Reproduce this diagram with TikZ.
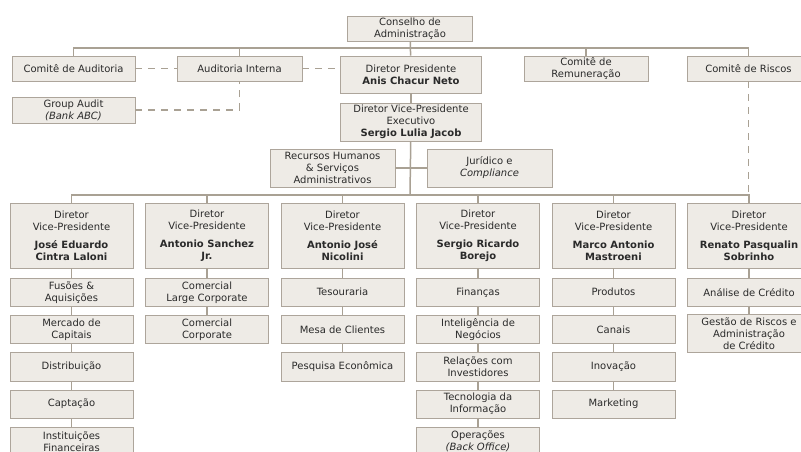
\documentclass[tikz,border=0pt]{standalone}
\usepackage{fontspec}
\setmainfont{DejaVu Sans}
\usetikzlibrary{positioning}

\definecolor{boxfill}{HTML}{EEEBE6}
\definecolor{boxline}{HTML}{ADA59B}
\definecolor{linkline}{HTML}{A9A194}
\definecolor{txt}{HTML}{2A2A2A}

\tikzset{
  unit/.style={draw=boxline, fill=boxfill, text=txt, line width=0.8pt, align=center,
    inner sep=1pt, font=\fontsize{10}{12}\selectfont, minimum width=123pt, minimum height=25pt},
  vp/.style={unit, minimum height=65pt},
  dept/.style={unit, minimum height=28.5pt},
  link/.style={draw=linkline, line width=1.5pt},
  dashlink/.style={link, dash pattern=on 7pt off 6pt},
}

\begin{document}
\begin{tikzpicture}[x=1pt,y=-1pt]
        % page frame
        \fill[white] (0,0) rectangle (801,452);
        \useasboundingbox (0,0) rectangle (801,452);
        \clip (0,0) rectangle (801,452);

        % board and committees
        \node[unit, minimum width=125pt] (cons) at (410,28.5) {Conselho de\\Administração};
        \node[unit] (comaud) at (73.5,68.5) {Comitê de Auditoria};
        \node[unit, minimum width=125pt] (audint) at (239.5,68.5) {Auditoria Interna};
        \node[unit, minimum width=141pt, minimum height=37pt] (pres) at (411,74.5) {Diretor Presidente\\\textbf{Anis Chacur Neto}};
        \node[unit, minimum width=124pt] (comrem) at (586,68.5) {Comitê de\\Remuneração};
        \node[unit] (comrisk) at (748.5,68.5) {Comitê de Riscos};
        \node[unit, minimum height=26pt] (ga) at (73.5,110) {Group Audit\\\textit{(Bank ABC)}};
        \node[unit, minimum width=141pt, minimum height=38pt] (vpexec) at (411,122) {Diretor Vice-Presidente\\Executivo\\\textbf{Sergio Lulia Jacob}};
        \node[unit, minimum width=125pt, minimum height=38pt] (rh) at (332.5,168) {Recursos Humanos\\\& Serviços\\Administrativos};
        \node[unit, minimum width=125pt, minimum height=38pt] (jur) at (489.5,168) {Jurídico e\\\textit{Compliance}};

        \coordinate (top) at (410,48);
        \coordinate (spine) at (410,195);

        % vice-presidents
        \node[vp] (v1) at (71.5,235.5) {Diretor\\Vice-Presidente\\[6pt]\textbf{José Eduardo}\\\textbf{Cintra Laloni}};
        \node[vp] (v2) at (207,235.5) {Diretor\\Vice-Presidente\\[6pt]\textbf{Antonio Sanchez}\\\textbf{Jr.}};
        \node[vp] (v3) at (342.5,235.5) {Diretor\\Vice-Presidente\\[6pt]\textbf{Antonio José}\\\textbf{Nicolini}};
        \node[vp] (v4) at (478,235.5) {Diretor\\Vice-Presidente\\[6pt]\textbf{Sergio Ricardo}\\\textbf{Borejo}};
        \node[vp] (v5) at (613.5,235.5) {Diretor\\Vice-Presidente\\[6pt]\textbf{Marco Antonio}\\\textbf{Mastroeni}};
        \node[vp] (v6) at (749,235.5) {Diretor\\Vice-Presidente\\[6pt]\textbf{Renato Pasqualin}\\\textbf{Sobrinho}};

        % departments
        \node[dept, below=9.2pt of v1] (a1) {Fusões \&\\Aquisições};
        \node[dept, below=8pt of a1] (a2) {Mercado de\\Capitais};
        \node[dept, below=8pt of a2] (a3) {Distribuição};
        \node[dept, below=8pt of a3] (a4) {Captação};
        \node[dept, below=8pt of a4, font=\fontsize{10}{11.5}\selectfont] (a5) {Instituições\\Financeiras};

        \node[dept, below=9.2pt of v2] (b1) {Comercial\\Large Corporate};
        \node[dept, below=8pt of b1] (b2) {Comercial\\Corporate};

        \node[dept, below=9.2pt of v3] (c1) {Tesouraria};
        \node[dept, below=8pt of c1] (c2) {Mesa de Clientes};
        \node[dept, below=8pt of c2] (c3) {Pesquisa Econômica};

        \node[dept, below=9.2pt of v4] (d1) {Finanças};
        \node[dept, below=8pt of d1] (d2) {Inteligência de\\Negócios};
        \node[dept, below=8pt of d2] (d3) {Relações com\\Investidores};
        \node[dept, below=8pt of d3] (d4) {Tecnologia da\\Informação};
        \node[dept, below=8pt of d4, font=\fontsize{10}{11.5}\selectfont] (d5) {Operações\\\textit{(Back Office)}};

        \node[dept, below=9.2pt of v5] (e1) {Produtos};
        \node[dept, below=8pt of e1] (e2) {Canais};
        \node[dept, below=8pt of e2] (e3) {Inovação};
        \node[dept, below=8pt of e3] (e4) {Marketing};

        \node[dept, below=9.2pt of v6] (f1) {Análise de Crédito};
        \node[dept, below=7.2pt of f1, minimum height=38pt] (f2) {Gestão de Riscos e\\Administração\\de Crédito};

        % solid lines
        \draw[link] (cons) -- (pres);
        \draw[link] (comaud.north) |- (top) -| (comrisk.north);
        \draw[link] (audint.north) -- (audint.north |- top);
        \draw[link] (comrem.north) -- (comrem.north |- top);
        \draw[link] (pres) -- (vpexec);
        \draw[link] (vpexec) -- (spine);
        \draw[link] (rh) -- (jur);
        \draw[link] (v1.north) |- (spine) -| (v6.north);
        \foreach \n in {v2,v3,v4,v5}
            \draw[link] (\n.north) -- (\n.north |- spine);
        \foreach \u/\w in {v1/a1,a1/a2,a2/a3,a3/a4,a4/a5,v2/b1,b1/b2,v3/c1,c1/c2,c2/c3,
                           v4/d1,d1/d2,d2/d3,d3/d4,d4/d5,v5/e1,e1/e2,e2/e3,e3/e4,v6/f1,f1/f2}
            \draw[link] (\u) -- (\w);

        % dashed lines
        \draw[dashlink] (comaud) -- (audint);
        \draw[dashlink] (audint.east) -- (audint.east -| pres.west);
        \draw[dashlink] (ga) -| (audint);
        \draw[dashlink] (comrisk) -- (comrisk |- spine);
\end{tikzpicture}
\end{document}
